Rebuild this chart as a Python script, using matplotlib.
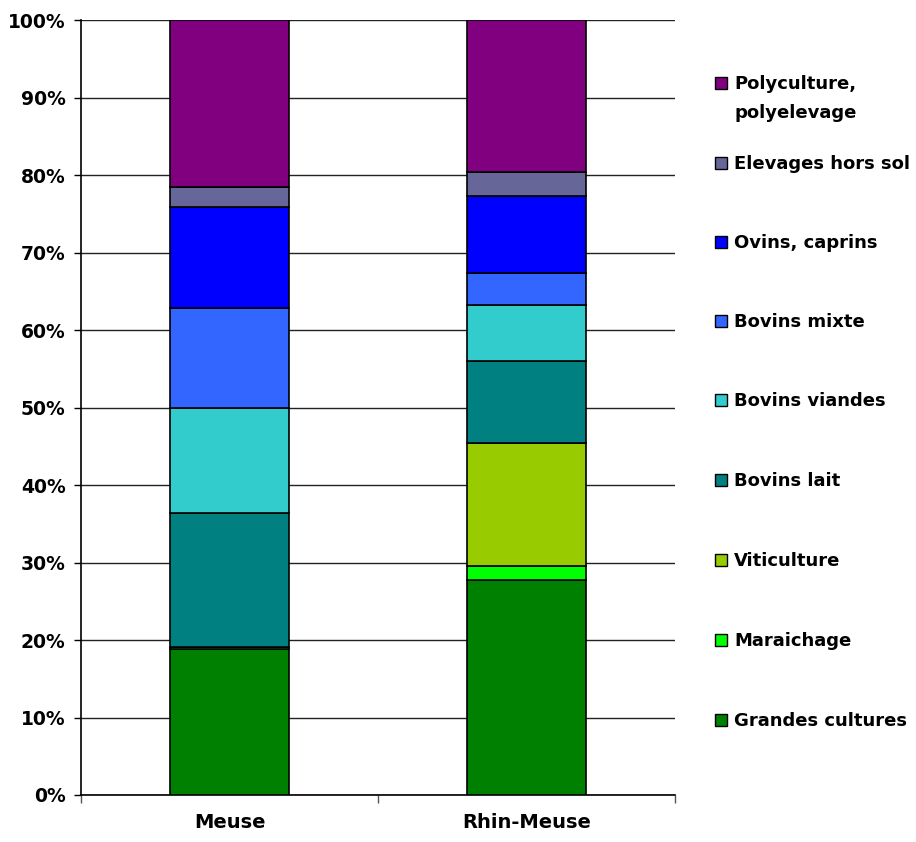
import matplotlib
matplotlib.use("Agg")
import matplotlib.pyplot as plt
from matplotlib.patches import Rectangle
import numpy as np

plt.rcParams['font.family'] = ['DejaVu Sans']
plt.rcParams['font.weight'] = 'bold'

regions = ["Meuse", "Rhin-Meuse"]

# stacked from bottom to top, values in %
series = ["Grandes cultures", "Maraichage", "Viticulture", "Bovins lait",
          "Bovins viandes", "Bovins mixte", "Ovins, caprins",
          "Elevages hors sol", "Polyculture,\npolyelevage"]
meuse = [18.9, 0.2, 0.0, 17.3, 13.5, 13.0, 13.0, 2.5, 21.6]
rhin_meuse = [27.7, 1.8, 15.9, 10.6, 7.2, 4.2, 9.9, 3.1, 19.6]
colors = ["#008000", "#00FF00", "#99CC00", "#008080", "#33CCCC",
          "#3366FF", "#0000FF", "#666699", "#800080"]

fig = plt.figure(figsize=(9.16, 8.42), dpi=100)
ax = fig.add_axes([81/916, 47/842, 594/916, 775/842])

vals = np.array([meuse, rhin_meuse])
vals = vals / vals.sum(axis=1, keepdims=True) * 100
x = np.arange(len(regions))
bottom = np.zeros(len(regions))
for i, name in enumerate(series):
    ax.bar(x, vals[:, i], 0.4, bottom=bottom, color=colors[i],
           edgecolor="black", linewidth=1.2, zorder=3)
    bottom += vals[:, i]

ax.set_xlim(-0.5, 1.5)
ax.set_ylim(0, 100)
ax.set_yticks(np.arange(0, 101, 10))
ax.set_yticklabels([f"{v}%" for v in range(0, 101, 10)], fontsize=13.5, fontweight='bold')
ax.yaxis.grid(True, color="#222222", linewidth=1)
ax.set_axisbelow(True)
ax.tick_params(axis='y', length=5, width=1, pad=6)

ax.set_xticks(x)
ax.set_xticklabels(regions, fontsize=14, fontweight='bold')
ax.set_xticks([-0.5, 0.5, 1.5], minor=True)
ax.tick_params(axis='x', which='major', length=0, pad=13)
ax.tick_params(axis='x', which='minor', length=6, width=1, color="#555555")

for s in ["top", "right"]:
    ax.spines[s].set_visible(False)
for s in ["left", "bottom"]:
    ax.spines[s].set_linewidth(1.2)

# legend, top to bottom
ys = [83, 163, 242, 321, 400, 480, 560, 640, 720]
for k, i in enumerate(range(len(series) - 1, -1, -1)):
    yf = 1 - ys[k] / 842
    fig.patches.append(Rectangle((715/916, yf - 6/842), 12/916, 12/842,
                                 transform=fig.transFigure, facecolor=colors[i],
                                 edgecolor="black", linewidth=1))
    fig.text(734/916, yf + 8/842, series[i], fontsize=13, fontweight='bold',
             va='top', ha='left', linespacing=1.75)

fig.savefig("out.png", dpi=100)
